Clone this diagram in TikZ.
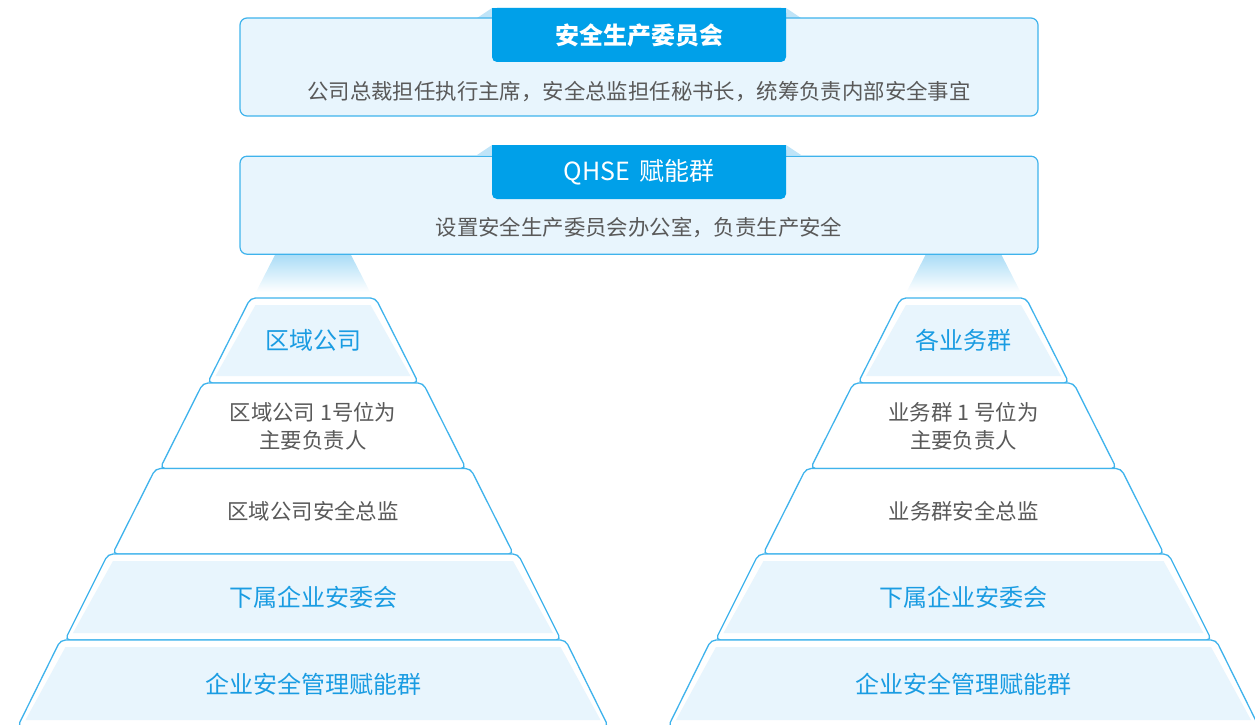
\documentclass[tikz,border=0pt]{standalone}
\usepackage{fontspec}
\setmainfont{Noto Sans CJK SC}
\usetikzlibrary{positioning}
\definecolor{tabblue}{HTML}{00A0E9}
\definecolor{edgeblue}{HTML}{3FB3EC}
\definecolor{paleblue}{HTML}{E8F5FD}
\definecolor{shoulder}{HTML}{BFE4F8}
\definecolor{textblue}{HTML}{1A9CE2}
\definecolor{textgray}{HTML}{595959}
\definecolor{glow}{HTML}{A6DBF6}

% #1 centre x, #2 top y, #3 top half width, #4 bottom half width, #5 height
\newcommand{\pyrtier}[5]{%
  \draw[tierline] ({#1-#3},#2) -- ({#1+#3},#2) -- ({#1+#4},{#2+#5}) -- ({#1-#4},{#2+#5}) -- cycle;}
\newcommand{\pyrfill}[5]{%
  \fill[paleblue] ({#1-#3+5},{#2+7}) -- ({#1+#3-5},{#2+7}) -- ({#1+#4-8},{#2+#5-7}) -- ({#1-#4+8},{#2+#5-7}) -- cycle;}

\begin{document}
\begin{tikzpicture}[x=1pt,y=-1pt,
  panel/.style={draw=edgeblue,fill=paleblue,line width=1.2pt,rounded corners=7pt,minimum width=798pt,minimum height=98pt,inner sep=0pt},
  tab/.style={fill=tabblue,text=white,rounded corners=5pt,minimum width=294pt,minimum height=54pt,inner sep=0pt,font=\fontsize{24}{28}\selectfont},
  desc/.style={text=textgray,font=\fontsize{21.4}{26}\selectfont},
  tierline/.style={draw=edgeblue,line width=1.3pt,rounded corners=5pt,fill=white},
  bluetext/.style={text=textblue,font=\fontsize{24}{28}\selectfont},
  graytext/.style={text=textgray,font=\fontsize{21.4}{28}\selectfont,align=center}]
\useasboundingbox (0,0) rectangle (1255,725);

% glow under the QHSE panel
\shade[top color=glow,bottom color=white] (276,253) -- (350,253) -- (370,292) -- (256,292) -- cycle;
\shade[top color=glow,bottom color=white] (926.5,253) -- (1000.5,253) -- (1020.5,292) -- (906.5,292) -- cycle;

% committee panel
\fill[shoulder] (492,8) -- (786,8) -- (801,18) -- (477,18) -- cycle;
\node[panel] (com) at (639,67) {};
\node[tab,font=\fontsize{24}{28}\selectfont\bfseries] (comtab) at (639,35) {安全生产委员会};
\fill[tabblue] (comtab.north west) rectangle ([yshift=-10pt]comtab.north east);
\node[desc] (comdesc) at (639,92) {公司总裁担任执行主席，安全总监担任秘书长，统筹负责内部安全事宜};

% QHSE panel
\fill[shoulder] (492,145) -- (786,145) -- (801,155) -- (477,155) -- cycle;
\node[panel,below=39pt of com] (qhse) {};
\node[tab,font=\fontsize{25}{28}\selectfont] (qhsetab) at (639,172) {QHSE\hspace{0.35em}赋能群};
\fill[tabblue] (qhsetab.north west) rectangle ([yshift=-10pt]qhsetab.north east);
\node[desc] (qhsedesc) at (639,228) {设置安全生产委员会办公室，负责生产安全};

% left pyramid
\pyrtier{313}{298}{62.5}{105.5}{85}
\pyrtier{313}{383}{110}{153}{85.5}
\pyrtier{313}{468.5}{157.5}{200.5}{85.5}
\pyrtier{313}{554}{205}{248}{86}
\pyrtier{313}{640}{252.5}{295.5}{87}
\pyrfill{313}{298}{62.5}{105.5}{85}
\pyrfill{313}{554}{205}{248}{86}
\pyrfill{313}{640}{252.5}{295.5}{87}

% right pyramid
\pyrtier{963.5}{298}{62.5}{105.5}{85}
\pyrtier{963.5}{383}{110}{153}{85.5}
\pyrtier{963.5}{468.5}{157.5}{200.5}{85.5}
\pyrtier{963.5}{554}{205}{248}{86}
\pyrtier{963.5}{640}{252.5}{295.5}{87}
\pyrfill{963.5}{298}{62.5}{105.5}{85}
\pyrfill{963.5}{554}{205}{248}{86}
\pyrfill{963.5}{640}{252.5}{295.5}{87}

\node[bluetext] (lregion) at (313,340.5) {区域公司};
\node[graytext] (lhead) at (313,426) {区域公司 1号位为\\主要负责人};
\node[graytext] (lsafety) at (313,511) {区域公司安全总监};
\node[bluetext] (lsub) at (313,597) {下属企业安委会};
\node[bluetext] (lmgmt) at (313,684) {企业安全管理赋能群};

\node[bluetext] (rgroup) at (963.5,340.5) {各业务群};
\node[graytext] (rhead) at (963.5,426) {业务群 1 号位为\\主要负责人};
\node[graytext] (rsafety) at (963.5,511) {业务群安全总监};
\node[bluetext] (rsub) at (963.5,597) {下属企业安委会};
\node[bluetext] (rmgmt) at (963.5,684) {企业安全管理赋能群};
\end{tikzpicture}
\end{document}
